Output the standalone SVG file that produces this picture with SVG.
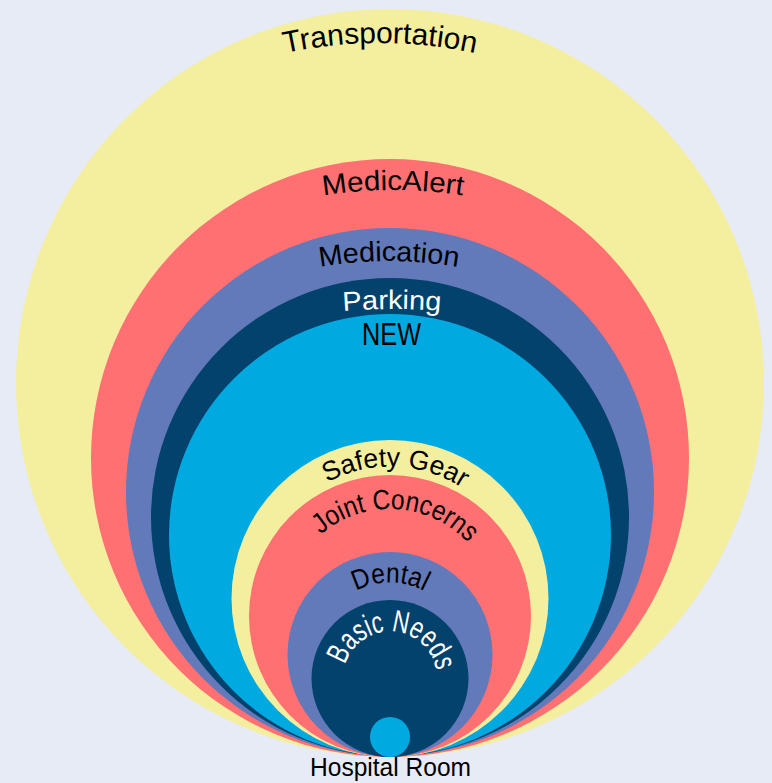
<svg xmlns="http://www.w3.org/2000/svg" xmlns:xlink="http://www.w3.org/1999/xlink" width="772" height="783" viewBox="0 0 772 783">
<style>
.yel{fill:#F4EE9F}.red{fill:#FE7072}.blu{fill:#6279BA}.nav{fill:#03426C}.cya{fill:#00A9E0}
text{font-family:"Liberation Sans Narrow","Liberation Sans",Arial,sans-serif;fill:#000}
.w{fill:#fff}
</style>
<defs>
<path id="pTrans" d="M-70,493 A450,450 0 0 1 830,493"/>
<path id="pMedicAlert" d="M-57,640 A450,450 0 0 1 843,640"/>
<path id="pMedication" d="M-11,661 A400,400 0 0 1 789,661"/>
<path id="pParking" d="M-208,909 A600,600 0 0 1 992,909"/>
<path id="pSafety" d="M258,598.5 A132,132 0 0 1 522,598.5"/>
<path id="pJoint" d="M283,616 A107,107 0 0 1 497,616"/>
<path id="pDental" d="M318,654.5 A72,72 0 0 1 462,654.5"/>
<path id="pBasic" d="M343,678.5 A47,47 0 0 1 437,678.5"/>
</defs>
<rect width="772" height="783" fill="#E7EBF6"/>
<g id="transportation">
<circle class="yel" cx="390" cy="383" r="374"/>
<text font-size="30"><textPath xlink:href="#pTrans" href="#pTrans" startOffset="50%" text-anchor="middle" textLength="192" lengthAdjust="spacingAndGlyphs">Transportation</textPath></text>
</g>
<g id="medicalert">
<circle class="red" cx="390" cy="458" r="299"/>
<text font-size="28"><textPath xlink:href="#pMedicAlert" href="#pMedicAlert" startOffset="50%" text-anchor="middle" textLength="140" lengthAdjust="spacingAndGlyphs">MedicAlert</textPath></text>
</g>
<g id="medication">
<circle class="blu" cx="390" cy="492" r="264"/>
<text font-size="28"><textPath xlink:href="#pMedication" href="#pMedication" startOffset="50%" text-anchor="middle" textLength="139" lengthAdjust="spacingAndGlyphs">Medication</textPath></text>
</g>
<g id="parking">
<circle class="nav" cx="390" cy="517" r="239"/>
<text font-size="27" class="w"><textPath xlink:href="#pParking" href="#pParking" startOffset="50%" text-anchor="middle" textLength="98" lengthAdjust="spacingAndGlyphs">Parking</textPath></text>
</g>
<g id="new">
<circle class="cya" cx="390" cy="535" r="221"/>
<text x="391.5" y="345" font-size="31" text-anchor="middle" textLength="59" lengthAdjust="spacingAndGlyphs">NEW</text>
</g>
<g id="safety-gear">
<circle class="yel" cx="390" cy="598.5" r="158.5"/>
<text font-size="27"><textPath xlink:href="#pSafety" href="#pSafety" startOffset="51.3%" text-anchor="middle" textLength="142" lengthAdjust="spacingAndGlyphs">Safety Gear</textPath></text>
</g>
<g id="joint-concerns">
<circle class="red" cx="390" cy="616" r="141"/>
<text font-size="28"><textPath xlink:href="#pJoint" href="#pJoint" startOffset="51.8%" text-anchor="middle" textLength="163" lengthAdjust="spacingAndGlyphs">Joint Concerns</textPath></text>
</g>
<g id="dental">
<circle class="blu" cx="390" cy="654.5" r="102.5"/>
<text font-size="28"><textPath xlink:href="#pDental" href="#pDental" startOffset="50%" text-anchor="middle" textLength="71" lengthAdjust="spacingAndGlyphs">Dental</textPath></text>
</g>
<g id="basic-needs">
<circle class="nav" cx="390" cy="678.5" r="78.5"/>
<text font-size="31" class="w"><textPath xlink:href="#pBasic" href="#pBasic" startOffset="52%" text-anchor="middle" textLength="126" lengthAdjust="spacingAndGlyphs">Basic Needs</textPath></text>
</g>
<g id="hospital-room">
<circle class="cya" cx="390" cy="737" r="20"/>
<text x="390.5" y="776" font-size="26" text-anchor="middle" textLength="161" lengthAdjust="spacingAndGlyphs">Hospital Room</text>
</g>
</svg>
